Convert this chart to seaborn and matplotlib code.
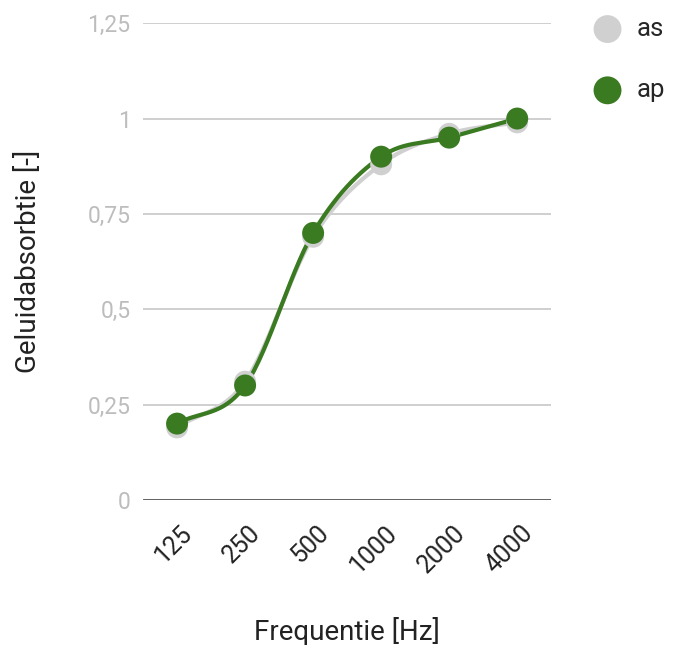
import numpy as np
import pandas as pd
import seaborn as sns
import matplotlib.pyplot as plt
import matplotlib.transforms as mtransforms

# Data
freqs = ['125', '250', '500', '1000', '2000', '4000']
as_values = [0.19, 0.31, 0.69, 0.88, 0.96, 0.99]
ap_values = [0.20, 0.30, 0.70, 0.90, 0.95, 1.00]
y_ticks = [0, 0.25, 0.5, 0.75, 1, 1.25]
y_tick_labels = ['0', '0,25', '0,5', '0,75', '1', '1,25']

GREEN = '#3a7a21'
GREY = '#d0d0d0'


def smooth(y, n=30):
    # Catmull-Rom curve through the points, for drawing the smooth line only
    y = np.asarray(y, dtype=float)
    p = np.concatenate([[2 * y[0] - y[1]], y, [2 * y[-1] - y[-2]]])
    xs, ys = [], []
    for i in range(len(y) - 1):
        t = np.linspace(0, 1, n, endpoint=False)
        p0, p1, p2, p3 = p[i], p[i + 1], p[i + 2], p[i + 3]
        seg = 0.5 * ((2 * p1) + (-p0 + p2) * t + (2 * p0 - 5 * p1 + 4 * p2 - p3) * t ** 2
                     + (-p0 + 3 * p1 - 3 * p2 + p3) * t ** 3)
        xs.extend(i + t)
        ys.extend(seg)
    xs.append(len(y) - 1)
    ys.append(y[-1])
    return np.array(xs), np.array(ys)


sns.set_style('white')
plt.rcParams['font.family'] = ['Roboto', 'DejaVu Sans']

df = pd.DataFrame({'freq': freqs, 'as': as_values, 'ap': ap_values})
df['pos'] = range(len(freqs))

fig = plt.figure(figsize=(6.78, 6.45), dpi=100)
ax = fig.add_axes([0.211, 0.225, 0.602, 0.739])

for col, color in [('as', GREY), ('ap', GREEN)]:
    sx, sy = smooth(df[col])
    sns.lineplot(x=sx, y=sy, ax=ax, color=color, linewidth=3.0, zorder=3)
    sns.scatterplot(data=df, x='pos', y=col, ax=ax, color=color, s=250,
                    edgecolor='none', zorder=4, label=col)

ax.set_xlim(-0.5, len(freqs) - 0.5)
ax.set_ylim(0, 1.25)
ax.set_yticks(y_ticks)
ax.set_yticklabels(y_tick_labels, color='#bdbdbd', fontsize=16.5)
ax.set_xticks(df['pos'])
ax.set_xticklabels(freqs, rotation=45, ha='right', va='center', rotation_mode='anchor',
                   fontsize=18, color='#222222')
ax.tick_params(axis='y', length=0, pad=9)
ax.tick_params(axis='x', length=0, pad=21)
offset = mtransforms.ScaledTranslation(12 / 100, 0, fig.dpi_scale_trans)
for lbl in ax.get_xticklabels():
    lbl.set_transform(lbl.get_transform() + offset)

for y in y_ticks[1:]:
    ax.axhline(y, color='#cccccc', linewidth=1.3, zorder=1)
ax.axhline(0, color='#333333', linewidth=1.8, zorder=2)

for s in ax.spines.values():
    s.set_visible(False)

ax.set_xlabel('Frequentie [Hz]', fontsize=20, color='#222222')
ax.set_ylabel('Geluidabsorbtie [-]', fontsize=20, color='#222222')
ax.xaxis.set_label_coords(0.5, -0.245)
ax.yaxis.set_label_coords(-0.248, 0.5)

handles, labels = ax.get_legend_handles_labels()
ax.legend(handles, labels, loc='upper left', bbox_to_anchor=(1.075, 1.035),
          frameon=False, fontsize=18.5, labelspacing=1.45, handletextpad=0.55,
          markerscale=1.27, borderaxespad=0, handlelength=1.2)

fig.savefig('out.png', dpi=100)
